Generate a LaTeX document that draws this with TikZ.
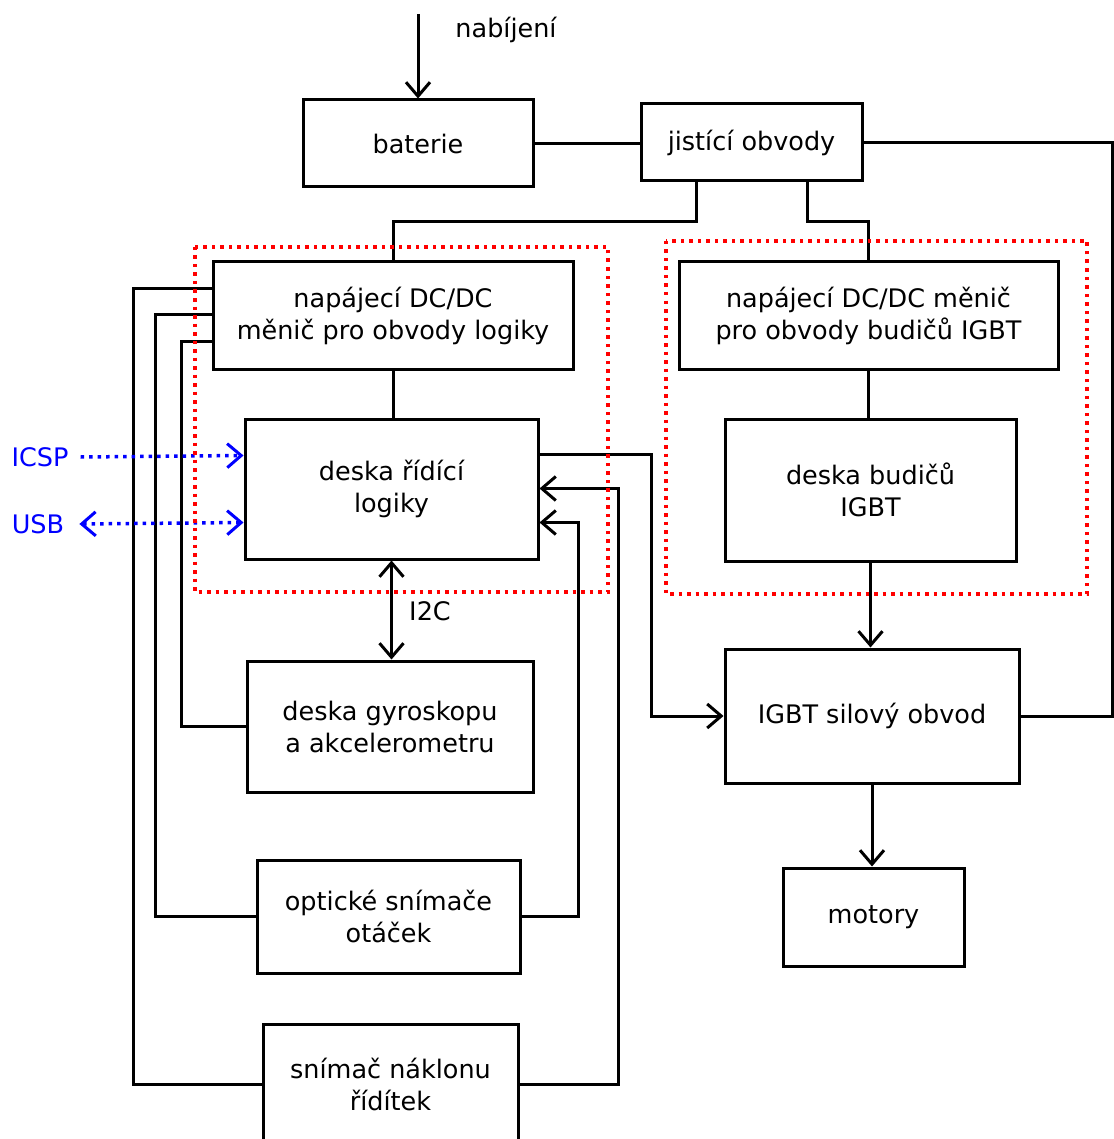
\documentclass[tikz,border=0pt]{standalone}
\usepackage{fontspec}
\setmainfont{DejaVu Sans}
\usetikzlibrary{arrows.meta,calc}
\begin{document}
\begin{tikzpicture}[x=1pt,y=-1pt,
  box/.style={draw,line width=3pt,fill=white,align=center,font=\fontsize{25.5}{32}\selectfont,inner sep=0pt},
  wire/.style={line width=3pt},
  arr/.style={wire,-{Straight Barb[length=14pt,width=24pt,line width=3pt]}},
  darr/.style={wire,{Straight Barb[length=14pt,width=24pt,line width=3pt]}-{Straight Barb[length=14pt,width=24pt,line width=3pt]}},
  bluedot/.style={line width=3.5pt,color=blue,dash pattern=on 3.5pt off 5pt},
  barr/.style={bluedot,-{Straight Barb[length=14pt,width=24pt,line width=3pt]}},
  bdarr/.style={bluedot,{Straight Barb[length=14pt,width=24pt,line width=3pt]}-{Straight Barb[length=14pt,width=24pt,line width=3pt]}},
  reddot/.style={line width=3.5pt,color=red,dash pattern=on 3.5pt off 5pt},
  lbl/.style={font=\fontsize{25.5}{32}\selectfont}]
\path[use as bounding box,fill=white] (0,0) rectangle (1113,1139);

% nodes
\node[box,minimum width=230,minimum height=87] (bat) at (418,143.5) {baterie};
\node[box,minimum width=221,minimum height=77] (jist) at (751.5,142.5) {jistící obvody};
\node[box,minimum width=360,minimum height=107] (nlog) at (393,315.5) {napájecí DC/DC\\měnič pro obvody logiky};
\node[box,minimum width=379,minimum height=107] (nigbt) at (868.5,315.5) {napájecí DC/DC měnič\\pro obvody budičů IGBT};
\node[box,minimum width=293,minimum height=140] (ctrl) at (391.5,489) {deska řídící\\logiky};
\node[box,minimum width=291,minimum height=142] (drv) at (870.5,490) {deska budičů\\IGBT};
\node[box,minimum width=286,minimum height=131] (gyro) at (390,726.5) {deska gyroskopu\\a akcelerometru};
\node[box,minimum width=263,minimum height=113] (opt) at (388.5,916.5) {optické snímače\\otáček};
\node[box,minimum width=255,minimum height=120] (tilt) at (390.5,1084) {snímač náklonu\\řídítek};
\node[box,minimum width=294,minimum height=134] (igbt) at (872,716) {IGBT silový obvod};
\node[box,minimum width=181,minimum height=98] (mot) at (873.5,917) {motory};

\node[lbl] (chglbl) at (506,30) {nabíjení};
\node[lbl] (i2c) at (430,611) {I2C};
\node[lbl,text=blue,inner sep=0pt] (icsp) at (40,457) {ICSP};
\node[lbl,text=blue,inner sep=0pt] (usb) at (38,524) {USB};
\coordinate (chg) at (418,14);

% connectors
\draw[arr] (chg) -- (bat.north);
\draw[wire] (bat.east) -- (bat.east -| jist.west);
\draw[wire] (jist.east) -- ++(249,0) |- (igbt.east);
\draw[wire] ($(jist.south)+(-55,0)$) -- ++(0,39) -| (nlog.north);
\draw[wire] ($(jist.south)+(56,0)$) -- ++(0,39) -| (nigbt.north);
\draw[wire] (nlog.south) -- (nlog.south |- ctrl.north);
\draw[wire] (nigbt.south) -- (nigbt.south |- drv.north);
\draw[arr] (drv.south) -- (drv.south |- igbt.north);
\draw[arr] (igbt.south) -- (igbt.south |- mot.north);
\draw[arr] ($(ctrl.north east)+(0,37)$) -- ++(112,0) |- (igbt.west);
\draw[darr] (ctrl.south) -- (ctrl.south |- gyro.north);

\draw[wire] ($(nlog.north west)+(0,28)$) -- ++(-78,0) |- (tilt.west);
\draw[wire] ($(nlog.north west)+(0,54)$) -- ++(-56,0) |- (opt.west);
\draw[wire] ($(nlog.north west)+(0,81)$) -- ++(-30,0) |- (gyro.west);

\draw[arr] (opt.east) -- ++(57,0) |- ($(ctrl.north east)+(0,105)$);
\draw[arr] (tilt.east) -- ++(99,0) |- ($(ctrl.north east)+(0,71)$);

\draw[barr] ($(icsp.east)+(12,0)$) -- ($(ctrl.north west)+(0,38)$);
\draw[bdarr] ($(usb.east)+(15,0)$) -- ($(ctrl.north west)+(0,105)$);

% red dotted groups
\draw[reddot] (195,247) rectangle (608,592);
\draw[reddot] (666,241) rectangle (1087,594);
\end{tikzpicture}
\end{document}
